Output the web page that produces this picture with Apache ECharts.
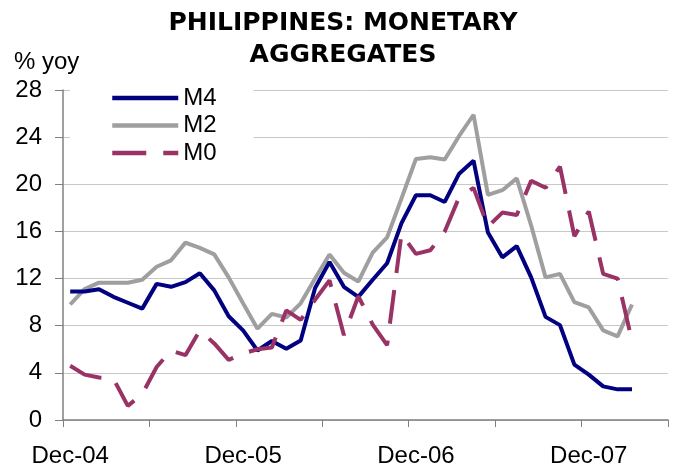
<!DOCTYPE html>
<html>
<head>
<meta charset="utf-8">
<script src="https://cdn.jsdelivr.net/npm/echarts@6/dist/echarts.min.js"></script>
<style>
  html, body { margin: 0; padding: 0; background: #fff; }
  #chart { width: 679px; height: 468px; }
</style>
</head>
<body>
<div id="chart"></div>
<script>
// monthly categories, Dec-04 .. May-08 (axis runs two months past the data)
const months = [
  'Dec-04', 'Jan-05', 'Feb-05', 'Mar-05', 'Apr-05', 'May-05', 'Jun-05', 'Jul-05', 'Aug-05', 'Sep-05', 'Oct-05', 'Nov-05',
  'Dec-05', 'Jan-06', 'Feb-06', 'Mar-06', 'Apr-06', 'May-06', 'Jun-06', 'Jul-06', 'Aug-06', 'Sep-06', 'Oct-06', 'Nov-06',
  'Dec-06', 'Jan-07', 'Feb-07', 'Mar-07', 'Apr-07', 'May-07', 'Jun-07', 'Jul-07', 'Aug-07', 'Sep-07', 'Oct-07', 'Nov-07',
  'Dec-07', 'Jan-08', 'Feb-08', 'Mar-08', 'Apr-08', 'May-08'
];

const m4 = [
  10.9, 10.9, 11.1, 10.45, 9.95, 9.45, 11.55, 11.3, 11.7, 12.45, 11.0, 8.8,
  7.6, 5.9, 6.7, 6.05, 6.75, 11.2, 13.4, 11.3, 10.45, 11.9, 13.3, 16.7,
  19.07, 19.07, 18.5, 20.9, 22.0, 15.9, 13.8, 14.75, 12.1, 8.75, 8.05, 4.7,
  3.85, 2.85, 2.6, 2.6
];

const m2 = [
  9.8, 11.1, 11.65, 11.65, 11.65, 11.9, 13.0, 13.55, 15.05, 14.6, 14.05, 12.1,
  9.9, 7.75, 9.0, 8.7, 9.9, 12.0, 14.05, 12.5, 11.75, 14.2, 15.5, 18.8,
  22.15, 22.3, 22.1, 24.1, 25.9, 19.1, 19.5, 20.5, 16.5, 12.1, 12.4, 10.0,
  9.55, 7.6, 7.1, 9.8
];

const m0 = [
  4.6, 3.85, 3.6, 3.5, 1.2, 2.2, 4.5, 5.9, 5.5, 7.6, 6.5, 5.1,
  5.65, 6.0, 6.15, 9.3, 8.5, 10.2, 11.85, 7.2, 10.5, 8.1, 6.35, 15.8,
  14.1, 14.4, 16.0, 18.9, 19.7, 16.4, 17.6, 17.4, 20.3, 19.7, 21.5, 15.6,
  17.7, 12.4, 12.0, 6.7
];

const chart = echarts.init(document.getElementById('chart'), null, { renderer: 'canvas' });

const labelFont = 'Liberation Sans, Arial, sans-serif';

chart.setOption({
  backgroundColor: '#fff',
  animation: false,
  title: [
    {
      text: 'PHILIPPINES: MONETARY\nAGGREGATES',
      left: 343,
      top: 8,
      padding: 0,
      textAlign: 'center',
      textStyle: {
        fontFamily: 'DejaVu Sans',
        fontWeight: 'bold',
        fontSize: 25,
        lineHeight: 31.5,
        color: '#000'
      }
    },
    {
      text: '% yoy',
      left: 14,
      top: 50,
      padding: 0,
      textStyle: { fontFamily: labelFont, fontWeight: 'normal', fontSize: 24, color: '#000' }
    }
  ],
  legend: {
    orient: 'vertical',
    left: 70,
    top: 82,
    padding: [4, 37, 8, 40],
    backgroundColor: '#fff',
    itemWidth: 66,
    itemHeight: 14,
    itemGap: 3.5,
    itemStyle: { opacity: 0 },
    lineStyle: { width: 4.5 },
    textStyle: { fontFamily: labelFont, fontSize: 24, lineHeight: 24, color: '#000' },
    data: ['M4', 'M2', 'M0']
  },
  grid: { left: 63, right: 11, top: 90, bottom: 48 },
  xAxis: {
    type: 'category',
    data: months,
    boundaryGap: true,
    axisLine: { lineStyle: { color: '#808080', width: 1.5 } },
    axisTick: { show: true, interval: 5, length: 7, lineStyle: { color: '#808080', width: 1 } },
    axisLabel: { interval: 11, margin: 24, fontFamily: labelFont, fontSize: 24, color: '#000' },
    splitLine: { show: false }
  },
  yAxis: {
    type: 'value',
    min: 0,
    max: 28,
    interval: 4,
    axisLine: { show: true, lineStyle: { color: '#808080', width: 1.5 } },
    axisTick: { show: true, length: 8, lineStyle: { color: '#808080' } },
    axisLabel: { margin: 21, fontFamily: labelFont, fontSize: 24, color: '#000' },
    splitLine: { lineStyle: { color: '#c8c8c8', width: 1 } }
  },
  series: [
    {
      name: 'M4',
      type: 'line',
      data: m4,
      symbol: 'none',
      lineStyle: { color: '#000080', width: 4 },
      itemStyle: { color: '#000080' },
      z: 3
    },
    {
      name: 'M2',
      type: 'line',
      data: m2,
      symbol: 'none',
      lineStyle: { color: '#9f9f9f', width: 4 },
      itemStyle: { color: '#9f9f9f' },
      z: 2
    },
    {
      name: 'M0',
      type: 'line',
      data: m0,
      symbol: 'none',
      lineStyle: { color: '#993366', width: 4, type: [34, 17] },
      itemStyle: { color: '#993366' },
      z: 4
    }
  ]
});
</script>
</body>
</html>
